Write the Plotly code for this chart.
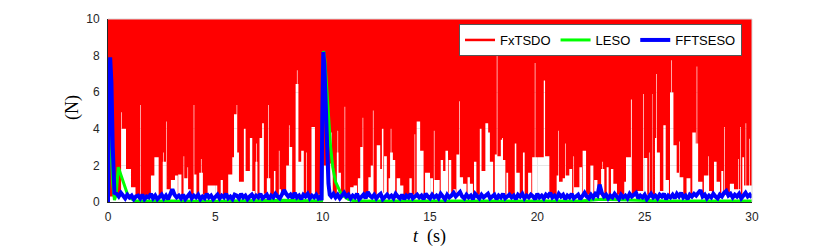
import plotly.graph_objects as go

# ---------------- data ----------------
# FxTSDO: chattering estimate, fills up to the top (>=10) everywhere; its lower
# envelope (the white notches) is stepwise: (time, lower level)
red_env_t = [0.00, 0.08, 0.61, 0.64, 0.84, 1.07, 1.28, 1.49, 1.52, 2.00, 2.16, 2.36,
             2.55, 2.58, 2.61, 2.70, 2.72, 2.75, 2.88, 2.93, 3.12, 3.25, 3.27, 3.42,
             3.52, 3.55, 3.70, 3.73, 3.85, 3.99, 4.02, 4.12, 4.25, 4.33, 4.36, 4.42,
             4.64, 5.09, 5.25, 5.35, 5.60, 5.79, 5.87, 5.99, 6.02, 6.10, 6.33, 6.41,
             6.61, 6.72, 6.84, 6.87, 6.90, 6.93, 6.96, 7.06, 7.18, 7.26, 7.40, 7.46,
             7.49, 7.56, 7.73, 7.80, 7.96, 7.99, 8.06, 8.30, 8.43, 8.46, 8.58, 8.74,
             8.80, 8.83, 8.87, 9.00, 9.12, 9.24, 9.27, 9.48, 9.64, 9.98, 10.27, 10.35,
             10.40, 10.43, 10.47, 10.66, 10.69, 10.72, 10.74, 10.85, 11.02, 11.05, 11.28, 11.44,
             11.60, 11.64, 11.75, 11.86, 11.89, 12.13, 12.24, 12.34, 12.37, 12.52, 12.68, 12.76,
             12.83, 12.86, 12.99, 13.07, 13.14, 13.17, 13.20, 13.27, 13.38, 13.45, 13.61, 13.76,
             14.04, 14.15, 14.28, 14.31, 14.38, 14.54, 14.70, 14.77, 15.00, 15.14, 15.18, 15.21,
             15.45, 15.50, 15.61, 15.72, 15.84, 15.87, 15.99, 16.08, 16.20, 16.23, 16.36, 16.39,
             16.54, 16.70, 16.75, 16.86, 17.00, 17.05, 17.16, 17.32, 17.40, 17.58, 17.71, 17.79,
             17.94, 18.02, 18.11, 18.14, 18.30, 18.36, 18.40, 18.51, 18.56, 18.64, 18.95, 19.02,
             19.18, 19.33, 19.41, 19.57, 19.72, 19.76, 19.88, 19.91, 20.10, 20.30, 20.36, 20.56,
             20.90, 20.98, 21.01, 21.18, 21.29, 21.32, 21.49, 21.62, 21.68, 21.71, 21.96, 22.08,
             22.11, 22.27, 22.47, 22.61, 22.65, 22.80, 22.97, 23.03, 23.06, 23.12, 23.23, 23.32,
             23.43, 23.54, 23.71, 24.05, 24.13, 24.36, 24.40, 24.55, 24.93, 24.96, 25.12, 25.20,
             25.23, 25.36, 25.38, 25.48, 25.54, 25.57, 25.71, 25.87, 25.98, 26.13, 26.18, 26.24,
             26.27, 26.34, 26.49, 26.60, 26.63, 26.80, 26.95, 27.13, 27.22, 27.38, 27.42, 27.45,
             27.49, 27.69, 27.76, 27.95, 27.98, 28.00, 28.13, 28.23, 28.35, 28.51, 28.57, 28.66,
             28.70, 28.73, 28.97, 29.16, 29.36, 29.39, 29.45, 29.48, 29.55, 29.63, 29.70, 29.73,
             29.86, 29.89, 30.00]
red_env_v = [3.4, 0.3, 4.9, 4.0, 1.8, 0.8, 0.3, 5.3, 0.35, 1.45, 2.45, 0.35,
             2.2, 2.7, 2.2, 0.7, 4.4, 0.7, 0.35, 1.2, 1.45, 0.4, 1.5, 0.4,
             2.5, 1.3, 1.9, 0.7, 0.4, 5.3, 1.5, 0.4, 1.6, 2.35, 1.6, 0.4,
             0.9, 0.35, 1.2, 0.35, 1.5, 2.45, 4.8, 5.3, 2.7, 1.1, 4.0, 1.7,
             3.5, 0.6, 0.35, 2.2, 3.2, 2.2, 0.35, 3.5, 4.3, 0.45, 1.3, 5.3,
             1.3, 0.4, 1.7, 0.4, 2.8, 0.7, 0.4, 2.0, 4.2, 3.0, 0.4, 6.45,
             7.2, 6.45, 2.2, 2.8, 0.4, 2.7, 0.4, 4.1, 0.4, 2.0, 0.4, 2.1,
             3.8, 2.1, 0.4, 2.7, 3.9, 2.7, 1.6, 0.4, 5.2, 0.4, 0.8, 0.9,
             0.4, 1.3, 3.0, 4.6, 0.4, 1.35, 2.0, 5.0, 0.4, 3.1, 1.8, 4.0,
             0.5, 2.5, 0.4, 1.3, 2.7, 4.0, 2.7, 2.3, 0.4, 1.3, 0.9, 0.35,
             1.3, 0.4, 3.7, 0.4, 4.4, 2.8, 0.4, 1.6, 1.3, 0.4, 3.9, 1.2,
             0.4, 2.3, 1.7, 2.8, 0.5, 2.3, 0.35, 0.7, 0.4, 2.6, 5.5, 1.35,
             1.0, 0.4, 1.35, 1.0, 0.4, 2.2, 0.4, 4.0, 1.7, 4.3, 3.8, 2.2,
             0.4, 2.6, 8.4, 2.5, 3.4, 3.5, 2.3, 0.4, 1.6, 0.4, 3.2, 1.6,
             0.4, 2.7, 0.4, 1.6, 0.4, 2.45, 7.6, 2.45, 2.45, 6.64, 2.5, 0.4,
             1.45, 3.9, 1.1, 1.3, 3.2, 1.45, 1.8, 0.4, 2.5, 0.8, 1.9, 0.4,
             2.8, 0.4, 2.0, 0.4, 1.2, 0.4, 1.8, 2.2, 1.8, 0.4, 1.9, 0.4,
             1.8, 1.0, 0.4, 1.1, 2.45, 5.6, 0.4, 0.6, 5.9, 2.4, 0.4, 2.7,
             0.4, 5.9, 0.4, 3.5, 7.0, 2.7, 0.6, 4.2, 1.2, 0.4, 6.0, 7.75,
             6.0, 3.1, 1.6, 3.3, 1.35, 0.4, 1.3, 0.4, 3.8, 3.2, 7.4, 3.2,
             1.1, 0.4, 1.45, 2.5, 1.45, 0.6, 0.4, 2.2, 1.1, 0.4, 1.7, 0.4,
             4.1, 0.4, 1.0, 0.7, 2.35, 0.7, 4.1, 0.4, 2.45, 0.9, 4.3, 0.9,
             3.45, 0.9, 0.9]
red_top_t = [0.0, 30.0]
red_top_v = [10.0, 10.0]

# LESO
green_t = [0.0, 0.05, 0.1, 0.16, 0.22, 0.3, 0.38, 0.48, 0.6, 0.75, 0.9, 1.05, 1.3,
           3.0, 5.0, 8.2, 9.95, 10.0, 10.04, 10.1, 10.2, 10.27, 10.37, 10.47, 10.6,
           10.82, 10.95, 11.2, 11.5, 14.0, 18.0, 22.0, 23.0, 26.0, 30.0]
green_v = [0.0, 3.0, 5.2, 3.0, 1.0, 0.1, 0.4, 1.9, 1.5, 0.9, 0.45, 0.2, 0.05,
           0.05, 0.04, 0.1, 0.05, 4.5, 8.25, 7.8, 6.0, 4.5, 3.0, 1.9, 1.1,
           0.55, 0.35, 0.15, 0.05, 0.05, 0.05, 0.05, 0.15, 0.05, 0.05]

# FFTSESO: transients (explicit) + noisy steady parts sampled every 0.1 s
blue_peak1_t = [0.0, 0.03, 0.1, 0.16, 0.22, 0.3]
blue_peak1_v = [0.0, 5.0, 7.9, 6.5, 3.0, 0.5]
blue_noise1_start = 0.4
blue_noise1_v = [
    0.45, 0.3, 0.5, 0.35, 0.2, 0.4, 0.25, 0.35, 0.15, 0.3,
    0.35, 0.2, 0.4, 0.15, 0.3, 0.25, 0.45, 0.2, 0.35, 0.15,
    0.3, 0.4, 0.2, 0.35, 0.15, 0.45, 0.7, 0.4, 0.25, 0.35,
    0.2, 0.4, 0.15, 0.3, 0.45, 0.2, 0.35, 0.25, 0.4, 0.15,
    0.3, 0.2, 0.45, 0.25, 0.35, 0.15, 0.3, 0.4, 0.2, 0.35,
    0.25, 0.45, 0.2, 0.3, 0.15, 0.4, 0.35, 0.2, 0.45, 0.25,
    0.35, 0.15, 0.3, 0.4, 0.2, 0.35, 0.25, 0.45, 0.2, 0.3,
    0.4, 0.15, 0.35, 0.25, 0.45, 0.3, 0.2, 0.4, 0.65, 0.45,
    0.3, 0.4, 0.2, 0.5, 0.25, 0.35, 0.15, 0.4, 0.3, 0.45,
    0.2, 0.35, 0.25, 0.4, 0.2, 0.3]
blue_peak2_t = [9.95, 9.98, 10.03, 10.08, 10.14, 10.2, 10.27, 10.33]
blue_peak2_v = [0.1, 4.5, 8.2, 7.5, 5.0, 2.6, 1.0, 0.4]
blue_noise2_start = 10.4
blue_noise2_v = [
    0.3, 0.45, 0.25, 0.4, 0.2, 0.35, 0.5, 0.3, 0.4, 0.2,
    0.35, 0.25, 0.45, 0.15, 0.3, 0.4, 0.2, 0.55, 0.35, 0.25,
    0.4, 0.2, 0.35, 0.45, 0.15, 0.3, 0.4, 0.25, 0.35, 0.2,
    0.45, 0.3, 0.2, 0.4, 0.15, 0.35, 0.25, 0.45, 0.2, 0.3,
    0.4, 0.25, 0.35, 0.15, 0.45, 0.3, 0.2, 0.4, 0.25, 0.35,
    0.2, 0.45, 0.3, 0.15, 0.4, 0.25, 0.35, 0.5, 0.3, 0.45,
    0.55, 0.3, 0.2, 0.4, 0.25, 0.35, 0.15, 0.45, 0.3, 0.2,
    0.4, 0.25, 0.35, 0.45, 0.2, 0.3, 0.4, 0.15, 0.35, 0.25,
    0.45, 0.2, 0.3, 0.4, 0.25, 0.35, 0.15, 0.4, 0.3, 0.45,
    0.2, 0.35, 0.25, 0.4, 0.3, 0.15, 0.45, 0.25, 0.35, 0.2,
    0.4, 0.3, 0.5, 0.25, 0.35, 0.2, 0.45, 0.3, 0.4, 0.15,
    0.35, 0.25, 0.45, 0.2, 0.3, 0.4, 0.15, 0.35, 0.5, 0.3,
    0.2, 0.4, 0.25, 0.45, 0.35, 0.95, 0.5, 0.3, 0.4, 0.2,
    0.35, 0.25, 0.45, 0.3, 0.15, 0.4, 0.25, 0.35, 0.2, 0.45,
    0.3, 0.4, 0.5, 0.2, 0.35, 0.25, 0.4, 0.15, 0.3, 0.45,
    0.25, 0.35, 0.2, 0.4, 0.3, 0.45, 0.15, 0.35, 0.25, 0.4,
    0.2, 0.45, 0.3, 0.5, 0.25, 0.35, 0.15, 0.4, 0.3, 0.45,
    0.35, 0.55, 0.65, 0.3, 0.4, 0.2, 0.35, 0.25, 0.45, 0.3,
    0.2, 0.4, 0.3, 0.5, 0.6, 0.35, 0.45, 0.25, 0.4, 0.3,
    0.45, 0.2, 0.35, 0.5, 0.3, 0.4, 0.25]
sample_dt = 0.1

x_ticks = [0, 5, 10, 15, 20, 25, 30]
y_ticks = [0, 2, 4, 6, 8, 10]
series_names = ["FxTSDO", "LESO", "FFTSESO"]

# ---------------- assemble ----------------
blue_t = (blue_peak1_t
          + [round(blue_noise1_start + i * sample_dt, 3) for i in range(len(blue_noise1_v))]
          + blue_peak2_t
          + [round(blue_noise2_start + i * sample_dt, 3) for i in range(len(blue_noise2_v))])
blue_v = blue_peak1_v + blue_noise1_v + blue_peak2_v + blue_noise2_v

RED, GREEN, BLUE = "#ff0000", "#00ff00", "#0000ff"

fig = go.Figure()
fig.add_trace(go.Scatter(x=red_top_t, y=red_top_v, mode="lines",
                         line=dict(width=0, color=RED), showlegend=False,
                         hoverinfo="skip"))
fig.add_trace(go.Scatter(x=red_env_t, y=red_env_v, mode="lines",
                         line=dict(width=0, color=RED, shape="hv"),
                         fill="tonexty", fillcolor=RED, showlegend=False))
fig.add_trace(go.Scatter(x=[None], y=[None], mode="lines", name=series_names[0],
                         line=dict(color=RED, width=2.5)))
fig.add_trace(go.Scatter(x=green_t, y=green_v, mode="lines", name=series_names[1],
                         line=dict(color=GREEN, width=3)))
fig.add_trace(go.Scatter(x=blue_t, y=blue_v, mode="lines", name=series_names[2],
                         line=dict(color=BLUE, width=4)))

# the page body has an 8 px margin: the figure is sized/positioned to compensate
OFF = 8
W, H = 830 - OFF, 249 - OFF
L, T = 108 - OFF, 19 - OFF
R = 830 - 752
B = 249 - 202
pw, ph = W - L - R, H - T - B

def px_x(page_x):
    return (page_x - OFF - L) / pw

def px_y(page_y):
    return 1 - (page_y - OFF - T) / ph

tickfont = dict(family="Liberation Sans, Arial, sans-serif", size=12, color="#262626")
fig.update_layout(
    template="none",
    width=W, height=H,
    margin=dict(l=L, r=R, t=T, b=B, pad=0, autoexpand=False),
    paper_bgcolor="white", plot_bgcolor="white",
    showlegend=True,
    legend=dict(orientation="h", x=px_x(742), xanchor="right",
                y=px_y(24), yanchor="top", traceorder="normal",
                bgcolor="white", bordercolor="#555555", borderwidth=1,
                font=dict(family="Liberation Sans, Arial, sans-serif", size=13, color="#000000"),
                itemwidth=30, tracegroupgap=0),
    xaxis=dict(range=[0, 30], tickvals=x_ticks, ticktext=[str(v) for v in x_ticks],
               showgrid=True, gridcolor="#e6e6e6", gridwidth=1, zeroline=False,
               showline=True, linecolor="#262626", linewidth=1, ticks="",
               tickfont=tickfont, ticklabelstandoff=4, automargin=False),
    yaxis=dict(range=[0, 10], tickvals=y_ticks, ticktext=[str(v) for v in y_ticks],
               showgrid=True, gridcolor="#e6e6e6", gridwidth=1, zeroline=False,
               showline=True, linecolor="#262626", linewidth=1, ticks="",
               tickfont=tickfont, ticklabelstandoff=5, automargin=False),
    shapes=[
        dict(type="line", xref="paper", yref="paper", x0=0, x1=1, y0=1, y1=1,
             line=dict(color="#d9d9d9", width=1), layer="above"),
        dict(type="line", xref="paper", yref="paper", x0=1, x1=1, y0=0, y1=1,
             line=dict(color="#d9d9d9", width=1), layer="above"),
    ],
    annotations=[
        dict(text="(N)", xref="paper", yref="paper",
             x=px_x(72), y=px_y(108), textangle=-90,
             showarrow=False, xanchor="center", yanchor="middle",
             font=dict(family="Liberation Serif, Times New Roman, serif", size=18, color="#000000")),
        dict(text="<i>t</i>&nbsp;&nbsp;(s)", xref="paper", yref="paper",
             x=px_x(429), y=px_y(236),
             showarrow=False, xanchor="center", yanchor="middle",
             font=dict(family="Liberation Serif, Times New Roman, serif", size=18, color="#000000")),
    ],
)

fig.write_html("out.html")
